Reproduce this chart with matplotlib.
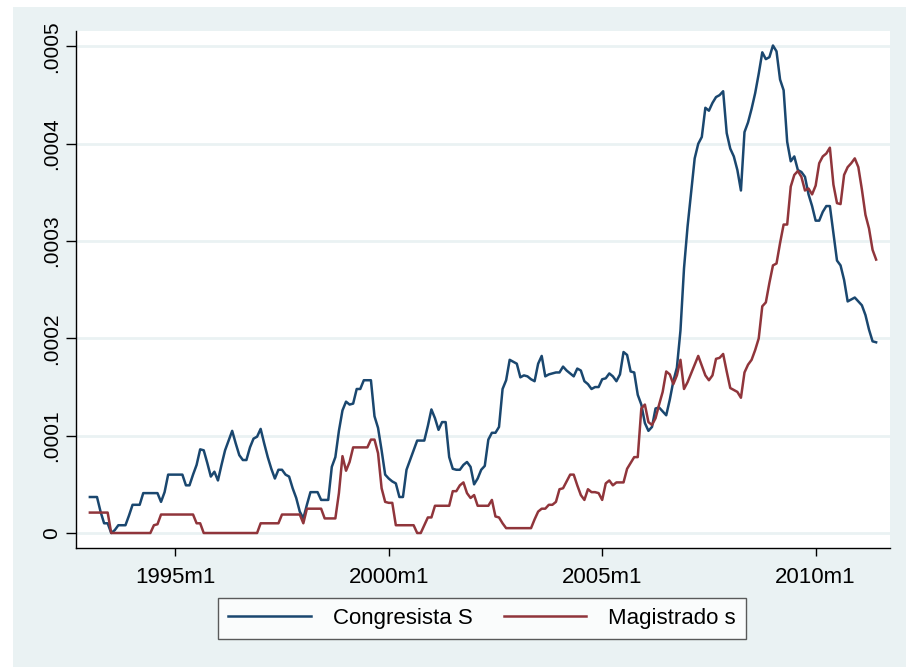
import numpy as np
import matplotlib.pyplot as plt
from matplotlib.patches import Rectangle

# monthly series, 1993m1 .. 2011m6 (values in units of 1e-4)
congresista = [
    0.37, 0.37, 0.37, 0.22, 0.10, 0.10, 0.00, 0.03, 0.08, 0.08,
    0.08, 0.18, 0.29, 0.29, 0.29, 0.41, 0.41, 0.41, 0.41, 0.41,
    0.32, 0.42, 0.60, 0.60, 0.60, 0.60, 0.60, 0.49, 0.49, 0.60,
    0.70, 0.86, 0.85, 0.72, 0.58, 0.63, 0.54, 0.70, 0.85, 0.95,
    1.05, 0.92, 0.80, 0.75, 0.75, 0.88, 0.97, 0.99, 1.07, 0.92,
    0.78, 0.66, 0.56, 0.65, 0.65, 0.60, 0.58, 0.46, 0.36, 0.22,
    0.15, 0.29, 0.42, 0.42, 0.42, 0.34, 0.34, 0.34, 0.68, 0.78,
    1.05, 1.26, 1.35, 1.32, 1.33, 1.48, 1.48, 1.57, 1.57, 1.57,
    1.20, 1.08, 0.85, 0.60, 0.56, 0.53, 0.51, 0.37, 0.37, 0.65,
    0.75, 0.85, 0.95, 0.95, 0.95, 1.10, 1.27, 1.18, 1.06, 1.14,
    1.14, 0.78, 0.66, 0.65, 0.65, 0.70, 0.73, 0.68, 0.50, 0.56,
    0.65, 0.69, 0.96, 1.03, 1.03, 1.09, 1.48, 1.57, 1.78, 1.76,
    1.74, 1.60, 1.62, 1.61, 1.58, 1.56, 1.74, 1.82, 1.61, 1.63,
    1.64, 1.65, 1.65, 1.71, 1.67, 1.64, 1.61, 1.69, 1.67, 1.56,
    1.53, 1.48, 1.50, 1.50, 1.58, 1.59, 1.64, 1.61, 1.56, 1.63,
    1.86, 1.83, 1.66, 1.65, 1.42, 1.32, 1.13, 1.05, 1.09, 1.28,
    1.29, 1.25, 1.21, 1.37, 1.56, 1.70, 2.08, 2.72, 3.15, 3.50,
    3.85, 4.00, 4.07, 4.37, 4.34, 4.42, 4.48, 4.50, 4.54, 4.11,
    3.95, 3.87, 3.73, 3.52, 4.12, 4.22, 4.36, 4.52, 4.72, 4.94,
    4.87, 4.89, 5.01, 4.95, 4.66, 4.55, 4.02, 3.82, 3.87, 3.73,
    3.71, 3.66, 3.48, 3.36, 3.21, 3.21, 3.30, 3.36, 3.36, 3.08,
    2.80, 2.75, 2.60, 2.38, 2.40, 2.42, 2.38, 2.34, 2.24, 2.09,
    1.97, 1.96,
]
magistrado = [
    0.21, 0.21, 0.21, 0.21, 0.21, 0.21, 0.00, 0.00, 0.00, 0.00,
    0.00, 0.00, 0.00, 0.00, 0.00, 0.00, 0.00, 0.00, 0.08, 0.09,
    0.19, 0.19, 0.19, 0.19, 0.19, 0.19, 0.19, 0.19, 0.19, 0.19,
    0.10, 0.10, 0.00, 0.00, 0.00, 0.00, 0.00, 0.00, 0.00, 0.00,
    0.00, 0.00, 0.00, 0.00, 0.00, 0.00, 0.00, 0.00, 0.10, 0.10,
    0.10, 0.10, 0.10, 0.10, 0.19, 0.19, 0.19, 0.19, 0.19, 0.19,
    0.10, 0.25, 0.25, 0.25, 0.25, 0.25, 0.15, 0.15, 0.15, 0.15,
    0.41, 0.79, 0.64, 0.73, 0.88, 0.88, 0.88, 0.88, 0.88, 0.96,
    0.96, 0.82, 0.46, 0.32, 0.31, 0.31, 0.08, 0.08, 0.08, 0.08,
    0.08, 0.08, 0.00, 0.00, 0.08, 0.16, 0.16, 0.28, 0.28, 0.28,
    0.28, 0.28, 0.43, 0.43, 0.49, 0.52, 0.41, 0.36, 0.39, 0.28,
    0.28, 0.28, 0.28, 0.34, 0.17, 0.16, 0.10, 0.05, 0.05, 0.05,
    0.05, 0.05, 0.05, 0.05, 0.05, 0.14, 0.22, 0.25, 0.25, 0.29,
    0.29, 0.32, 0.45, 0.46, 0.53, 0.60, 0.60, 0.49, 0.39, 0.34,
    0.45, 0.42, 0.42, 0.41, 0.34, 0.51, 0.54, 0.49, 0.52, 0.52,
    0.52, 0.66, 0.72, 0.78, 0.78, 1.28, 1.32, 1.14, 1.11, 1.18,
    1.32, 1.45, 1.66, 1.63, 1.53, 1.62, 1.78, 1.48, 1.55, 1.64,
    1.73, 1.82, 1.72, 1.62, 1.57, 1.62, 1.79, 1.80, 1.84, 1.66,
    1.49, 1.47, 1.45, 1.39, 1.65, 1.73, 1.78, 1.88, 2.00, 2.33,
    2.37, 2.57, 2.75, 2.77, 2.98, 3.17, 3.17, 3.56, 3.68, 3.72,
    3.66, 3.52, 3.54, 3.48, 3.57, 3.80, 3.87, 3.90, 3.96, 3.58,
    3.39, 3.38, 3.68, 3.76, 3.80, 3.85, 3.76, 3.53, 3.27, 3.13,
    2.91, 2.81,
]
xtick_pos = [24, 84, 144, 204]
xtick_labels = ["1995m1", "2000m1", "2005m1", "2010m1"]
ytick_vals = [0, 0.0001, 0.0002, 0.0003, 0.0004, 0.0005]
ytick_labels = ["0", ".0001", ".0002", ".0003", ".0004", ".0005"]

NAVY = "#1a476f"
MAROON = "#90353b"
BG = "#eaf2f3"

plt.rcParams["font.family"] = ["Liberation Sans", "DejaVu Sans"]

fig = plt.figure(figsize=(9.06, 6.67), dpi=100)
fig.patches.append(Rectangle((13 / 906, 0), 893 / 906, 660 / 667,
                             transform=fig.transFigure, facecolor=BG,
                             edgecolor="none", zorder=-10))

ax = fig.add_axes([76 / 906, 119 / 667, 814 / 906, 517 / 667])
ax.set_facecolor("white")

months = np.arange(len(congresista))
ax.plot(months, np.array(congresista) * 1e-4, color=NAVY, lw=1.8,
        label="Congresista S", zorder=3)
ax.plot(months, np.array(magistrado) * 1e-4, color=MAROON, lw=1.8,
        label="Magistrado s", zorder=3)

ax.set_xlim(-3.9, 224.9)
ax.set_ylim(-0.0000154, 0.0005159)

ax.set_yticks(ytick_vals)
ax.set_yticklabels(ytick_labels, rotation=90, va="center", fontsize=15)
ax.set_xticks(xtick_pos)
ax.set_xticklabels(xtick_labels, fontsize=16)
ax.yaxis.grid(True, color=BG, lw=2)
ax.set_axisbelow(True)

for side in ("top", "right"):
    ax.spines[side].set_visible(False)
for side in ("left", "bottom"):
    ax.spines[side].set_linewidth(1)
ax.tick_params(axis="y", length=7, width=1, pad=4)
ax.tick_params(axis="x", length=6, width=1, pad=8)

leg = ax.legend(loc="center", bbox_to_anchor=(482 / 906, 48.5 / 667),
                bbox_transform=fig.transFigure, ncol=2, fontsize=16,
                frameon=True, fancybox=False, handlelength=3.7,
                handletextpad=1.0, columnspacing=1.4, borderpad=0.45)
leg.get_frame().set_edgecolor("#333333")
leg.get_frame().set_linewidth(1)
for line in leg.get_lines():
    line.set_linewidth(1.8)

fig.savefig("out.png", dpi=100)
